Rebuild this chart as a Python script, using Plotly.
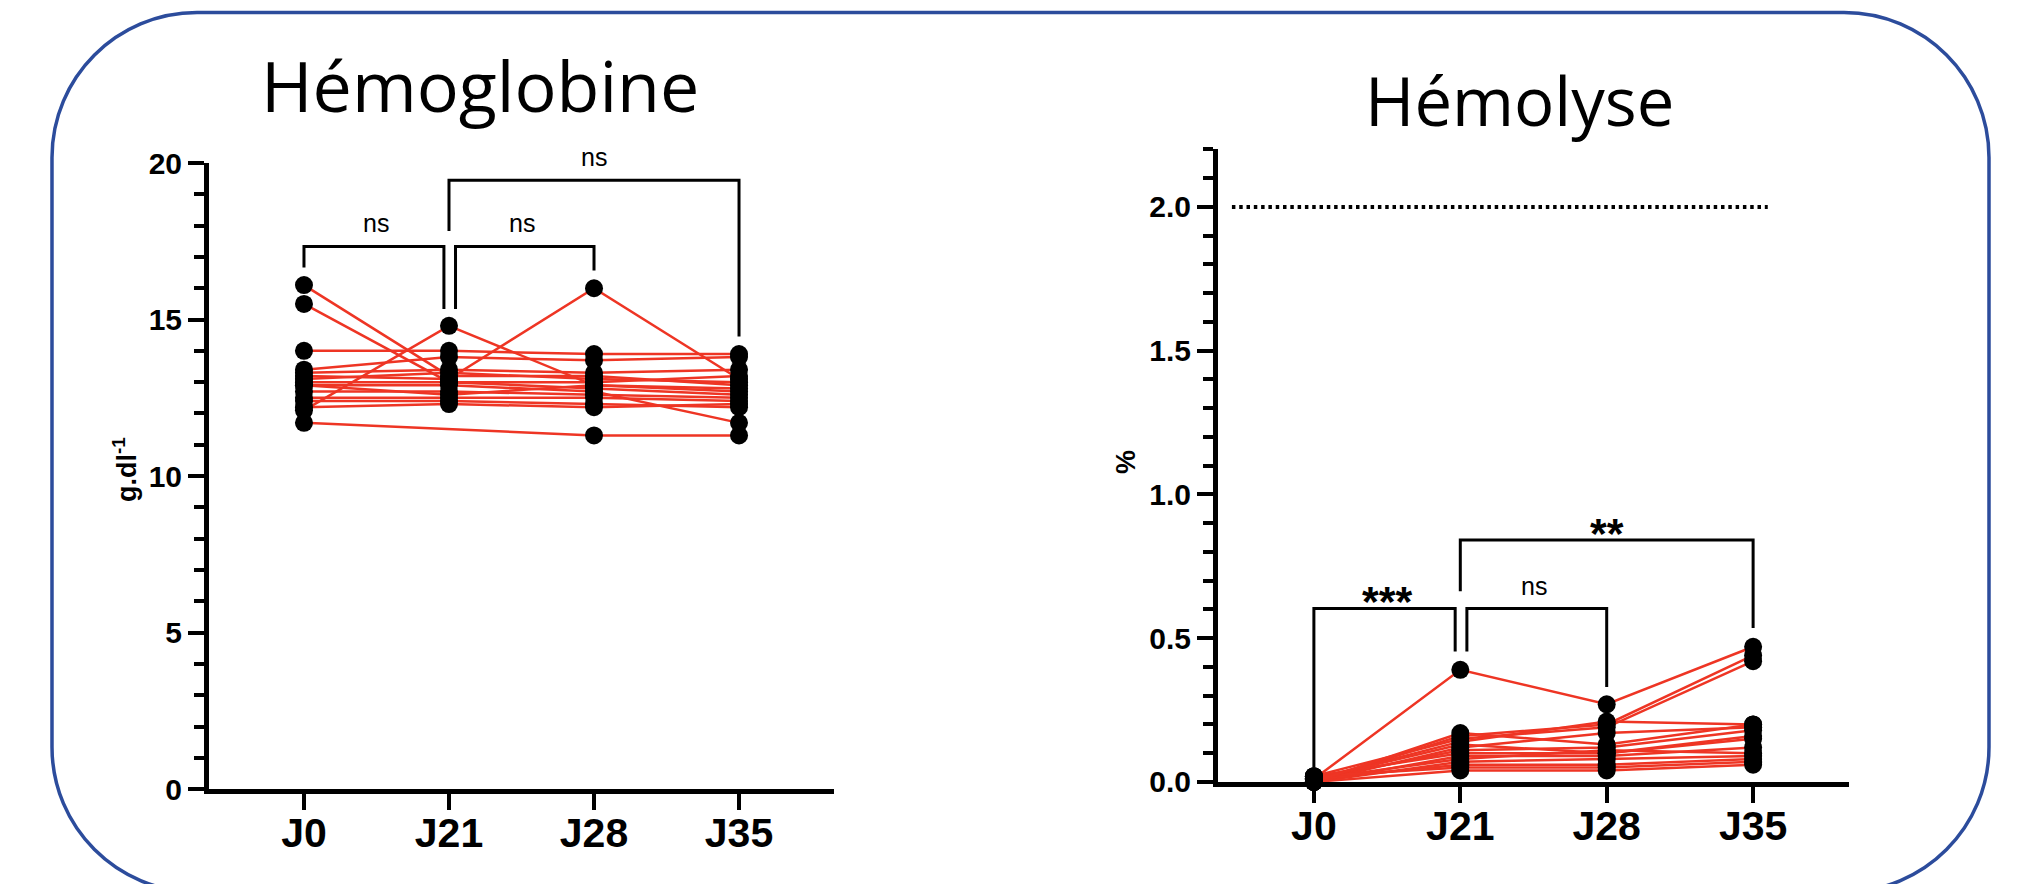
import plotly.graph_objects as go
import numpy as np

W, H = 2027, 884

# ---------------- data ----------------
days = ["J0", "J21", "J28", "J35"]

# Hémoglobine (g/dl), one list per day, same subject order
hb_j0  = [16.1, 15.5, 14.0, 13.4, 13.3, 13.2, 12.1, 13.0, 12.9, 12.7, 12.5, 12.4, 12.2, 11.7, 12.9, 13.1]
hb_j21 = [13.2, 13.0, 14.0, 13.8, 13.4, 13.1, 14.8, 13.0, 12.9, 12.7, 12.5, 12.4, 12.3, None, 12.6, 13.3]
hb_j28 = [13.2, 12.8, 13.9, 13.7, 13.3, 16.0, 12.9, 13.0, 12.7, 12.6, 12.5, 12.3, 12.2, 11.3, 12.9, 13.1]
hb_j35 = [12.9, 12.6, 13.9, 13.8, 13.4, 13.1, 12.8, 13.2, 11.7, 12.5, 12.4, 12.2, 12.3, 11.3, 12.7, 13.0]

# Hémolyse (%)
hl_j0  = [0.01, 0.00, 0.02, 0.01, 0.00, 0.01, 0.02, 0.00, 0.01, 0.00, 0.01, 0.02, 0.00, 0.01, 0.00]
hl_j21 = [0.39, 0.16, 0.15, 0.14, 0.12, 0.11, 0.10, 0.09, 0.08, 0.07, 0.06, 0.05, 0.04, 0.13, 0.17]
hl_j28 = [0.27, 0.20, 0.19, 0.21, 0.17, 0.12, 0.10, 0.09, 0.11, 0.08, 0.06, 0.05, 0.04, 0.10, 0.13]
hl_j35 = [0.47, 0.44, 0.42, 0.20, 0.19, 0.18, 0.15, 0.12, 0.10, 0.09, 0.08, 0.07, 0.06, 0.16, 0.20]

hemolysis_limit = 2.0

hb_ticks = [0, 5, 10, 15, 20]
hl_ticks = [0.0, 0.5, 1.0, 1.5, 2.0]

# significance brackets: (from day idx, to day idx, label, level, left leg end, right leg end)
hb_brackets = [(0, 1, "ns", 17.33, 16.66, 15.34),
               (1, 2, "ns", 17.33, 15.34, 16.57),
               (1, 3, "ns", 19.45, 17.83, 14.46)]
hl_brackets = [(0, 1, "***", 0.603, 0.05, 0.454),
               (1, 2, "ns", 0.603, 0.454, 0.330),
               (1, 3, "**", 0.841, 0.663, 0.535)]

# ---------------- style ----------------
LINE_RED = "#EE3524"
BLUE = "#2C4C9C"
ARIAL = "Liberation Sans, Arial"
TICKFONT = dict(family=ARIAL, size=30, color="black")
XTICKFONT = dict(family=ARIAL, size=41, color="black")

fig = go.Figure()

def add_panel(cols, xa, ya):
    arr = np.array([[np.nan if v is None else v for v in c] for c in cols], dtype=float)
    xs = list(range(len(days)))
    n = arr.shape[1]
    for i in range(n):
        fig.add_trace(go.Scatter(x=xs, y=arr[:, i], mode="lines", connectgaps=True,
                                 line=dict(color=LINE_RED, width=2.5),
                                 xaxis=xa, yaxis=ya, showlegend=False, hoverinfo="skip",
                                 cliponaxis=False))
    for d in xs:
        fig.add_trace(go.Scatter(x=[d] * n, y=arr[d], mode="markers",
                                 marker=dict(color="black", size=18, line=dict(width=0)),
                                 xaxis=xa, yaxis=ya, showlegend=False, cliponaxis=False))

add_panel([hb_j0, hb_j21, hb_j28, hb_j35], "x", "y")
add_panel([hl_j0, hl_j21, hl_j28, hl_j35], "x2", "y2")

def add_brackets(brs, xa, ya):
    for (a, b, lab, lvl, yl, yr) in brs:
        xa_ = a + (0.045 if (a == 1 and b == 2) else 0)
        xb_ = b - (0.035 if (a == 0 and b == 1) else 0)
        fig.add_trace(go.Scatter(x=[xa_, xa_, xb_, xb_], y=[yl, lvl, lvl, yr], mode="lines",
                                 line=dict(color="black", width=3),
                                 xaxis=xa, yaxis=ya, showlegend=False, hoverinfo="skip",
                                 cliponaxis=False))

add_brackets(hb_brackets, "x", "y")
add_brackets(hl_brackets, "x2", "y2")

annotations = []
NSFONT = dict(family=ARIAL, size=25, color="black")
STARFONT = dict(family=ARIAL, size=43, color="black")

for (a, b, lab, lvl, yl, yr) in hb_brackets:
    xm = (a + b) / 2
    if lvl > 19:
        annotations.append(dict(x=xm, y=20, xref="x", yref="y", text=lab, showarrow=False,
                                font=NSFONT, yanchor="middle", yshift=6))
    else:
        annotations.append(dict(x=xm, y=lvl + 0.75, xref="x", yref="y", text=lab, showarrow=False,
                                font=NSFONT, yanchor="middle"))
for (a, b, lab, lvl, yl, yr) in hl_brackets:
    xm = (a + b) / 2
    star = "*" in lab
    annotations.append(dict(x=xm, y=lvl + (0.06 if star else 0.078), xref="x2", yref="y2",
                            text=("<b>" + lab + "</b>") if star else lab, showarrow=False,
                            font=STARFONT if star else NSFONT, yanchor="middle",
                            yshift=(-10 if star else 0)))

# titles
annotations.append(dict(x=480 / W, y=1 - 85 / H, xref="paper", yref="paper", text="Hémoglobine",
                        showarrow=False, font=dict(family="Open Sans", size=70, color="black"),
                        xanchor="center", yanchor="middle"))
annotations.append(dict(x=1519 / W, y=1 - 100 / H, xref="paper", yref="paper", text="Hémolyse",
                        showarrow=False, font=dict(family="Open Sans", size=67, color="black"),
                        xanchor="center", yanchor="middle"))
# axis titles
annotations.append(dict(x=125 / W, y=1 - 470 / H, xref="paper", yref="paper",
                        text="<b>g.dl<sup>-1</sup></b>", textangle=-90, showarrow=False,
                        xanchor="center", yanchor="middle",
                        font=dict(family=ARIAL, size=27, color="black")))
annotations.append(dict(x=1126 / W, y=1 - 462 / H, xref="paper", yref="paper", text="<b>%</b>",
                        textangle=-90, showarrow=False, xanchor="center", yanchor="middle",
                        font=dict(family=ARIAL, size=27, color="black")))

# rounded border
def px(x):
    return x / W

def py(y):
    return 1 - y / H

L, R, T, B, r = 52, 1989, 12.5, 892, 145
k = 0.5523 * r
pts = [
    ("M", [(L + r, T)]),
    ("L", [(R - r, T)]),
    ("C", [(R - r + k, T), (R, T + r - k), (R, T + r)]),
    ("L", [(R, B - r)]),
    ("C", [(R, B - r + k), (R - r + k, B), (R - r, B)]),
    ("L", [(L + r, B)]),
    ("C", [(L + r - k, B), (L, B - r + k), (L, B - r)]),
    ("L", [(L, T + r)]),
    ("C", [(L, T + r - k), (L + r - k, T), (L + r, T)]),
]
path = " ".join(cmd + " " + " ".join(f"{px(x):.5f},{py(y):.5f}" for x, y in p) for cmd, p in pts) + " Z"

shapes = [
    dict(type="path", xref="paper", yref="paper", path=path, line=dict(color=BLUE, width=3.5)),
    dict(type="line", xref="x2", yref="y2", x0=-0.56, x1=3.10, y0=hemolysis_limit, y1=hemolysis_limit,
         line=dict(color="black", width=4, dash="3.5px,3.8px")),
]

xaxis_common = dict(tickmode="array", tickvals=list(range(len(days))),
                    ticktext=["<b>" + d + "</b>" for d in days],
                    range=[-0.655, 3.655], showline=True, linecolor="black", linewidth=5,
                    ticks="outside", ticklen=16, tickwidth=4, tickcolor="black",
                    tickfont=XTICKFONT, showgrid=False, zeroline=False, automargin=False,
                    ticklabelstandoff=-12)
yaxis_common = dict(showline=True, linecolor="black", linewidth=5,
                    ticks="outside", ticklen=16, tickwidth=4, tickcolor="black", tickfont=TICKFONT,
                    showgrid=False, zeroline=False, automargin=False, tickmode="array")

fig.update_layout(
    template="none",
    width=W, height=H, margin=dict(l=0, r=0, t=0, b=0, autoexpand=False),
    paper_bgcolor="white", plot_bgcolor="white", showlegend=False,
    xaxis=dict(domain=[209 / W, 834 / W], anchor="y", **xaxis_common),
    yaxis=dict(domain=[(H - 789.2) / H, (H - 163) / H], anchor="x", range=[0, 20],
               tickvals=hb_ticks, ticktext=[f"<b>{v}</b>" for v in hb_ticks],
               minor=dict(tickmode="linear", tick0=0, dtick=1, ticks="outside", ticklen=10,
                          tickwidth=4, tickcolor="black"),
               **yaxis_common),
    xaxis2=dict(domain=[1218 / W, 1849 / W], anchor="y2", **xaxis_common),
    yaxis2=dict(domain=[(H - 781.9) / H, (H - 149.4) / H], anchor="x2", range=[0, 2.2],
                tickvals=hl_ticks, ticktext=[f"<b>{v:.1f}</b>" for v in hl_ticks],
                minor=dict(tickmode="linear", tick0=0, dtick=0.1, ticks="outside", ticklen=10,
                           tickwidth=4, tickcolor="black"),
                **yaxis_common),
    annotations=annotations,
    shapes=shapes,
)

fig.write_html("out.html", config={"displayModeBar": False},
               post_script="document.body.style.margin='0';document.body.style.overflow='hidden';")
